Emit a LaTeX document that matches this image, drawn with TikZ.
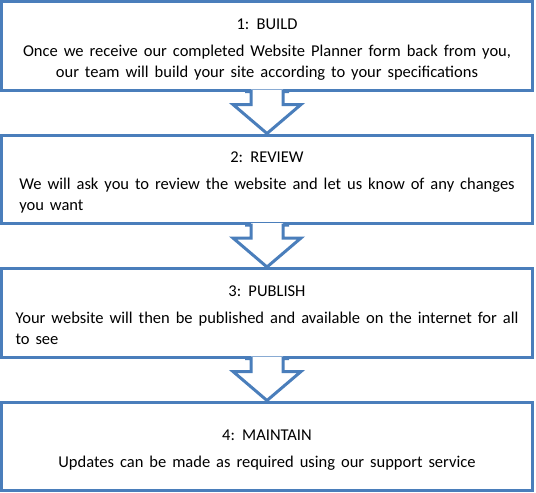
\documentclass[tikz,border=0pt]{standalone}
\usepackage{fontspec}
\setmainfont[WordSpace=1.6]{Carlito}
\usetikzlibrary{calc}
\definecolor{planblue}{RGB}{74,126,187}
\tikzset{
  stepbox/.style={draw=planblue, line width=3pt, fill=white, minimum width=531pt,
    minimum height=88.5pt, align=center, font=\fontsize{16.5}{21}\selectfont},
  flowline/.style={draw=planblue, line width=3pt, line join=miter}
}
% title over body, set a little below the middle of the box
\newcommand{\steptext}[2]{\raisebox{-3.5pt}[\height][\depth]{\begin{tabular}{@{}c@{}}#1\\[6pt]#2\end{tabular}}}
% block arrow from the bottom of one box to the top of the next
\newcommand{\flowarrow}[2]{%
  \fill[white] ($(#1.south)+(-16,2)$) -- ($(#1.south)+(-16,-13)$) -- ($(#1.south)+(-34,-13)$)
    -- (#2.north) -- ($(#1.south)+(34,-13)$) -- ($(#1.south)+(16,-13)$) -- ($(#1.south)+(16,2)$) -- cycle;
  \draw[flowline] ($(#1.south)+(-22,0)$) -- ($(#1.south)+(-16,0)$) -- ($(#1.south)+(-16,-13)$)
    -- ($(#1.south)+(-34,-13)$) -- (#2.north) -- ($(#1.south)+(34,-13)$) -- ($(#1.south)+(16,-13)$)
    -- ($(#1.south)+(16,0)$) -- ($(#1.south)+(22,0)$);
}
\begin{document}
\begin{tikzpicture}[x=1pt,y=1pt]
\useasboundingbox (0,0) rectangle (536,-493);
\node[stepbox] (build) at (267,-45.75) {\steptext{1: BUILD}{Once we receive our completed Website Planner form back from you,\\our team will build your site according to your specifications}};
\node[stepbox] (review) at (267,-179.25) {\steptext{2: REVIEW}{\begin{tabular}[t]{@{}l@{}}We will ask you to review the website and let us know of any changes\\you want\end{tabular}}};
\node[stepbox] (publish) at (267,-312.75) {\steptext{3: PUBLISH}{\begin{tabular}[t]{@{}l@{}}Your website will then be published and available on the internet for all\\to see\end{tabular}}};
\node[stepbox] (maintain) at (267,-446.25) {\steptext{4: MAINTAIN}{Updates can be made as required using our support service}};
\flowarrow{build}{review}
\flowarrow{review}{publish}
\flowarrow{publish}{maintain}
\end{tikzpicture}
\end{document}
